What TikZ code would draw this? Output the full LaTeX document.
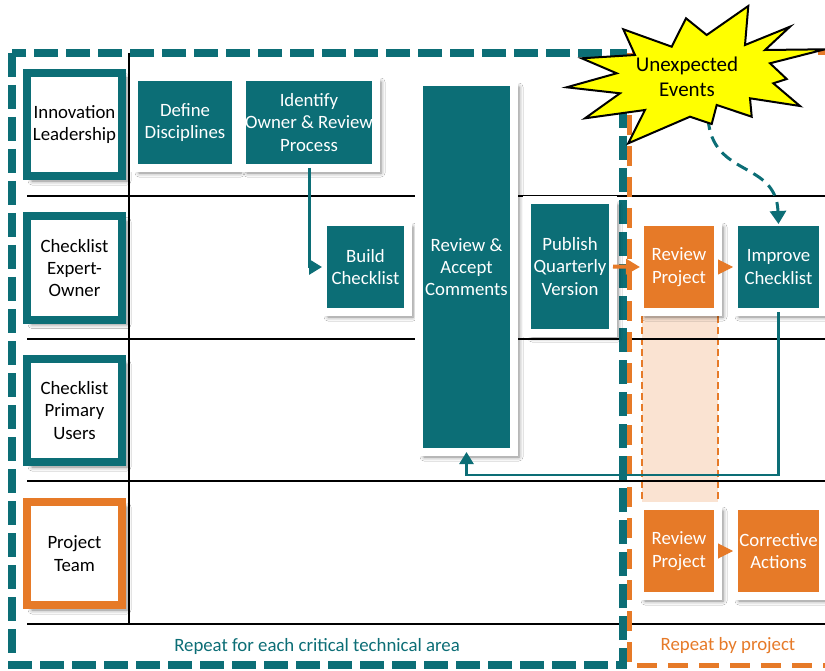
\documentclass[tikz,border=0pt]{standalone}
\usepackage{fontspec}
\setmainfont{Carlito}
\usetikzlibrary{arrows.meta,shadows.blur}
\definecolor{tealc}{RGB}{12,110,118}
\definecolor{orangec}{RGB}{230,122,40}
\definecolor{peach}{RGB}{250,227,210}
\definecolor{staryellow}{RGB}{255,255,0}
\begin{document}
\begin{tikzpicture}[x=1pt,y=-1pt,
  every node/.style={font=\fontsize{18.8}{22.3}\selectfont},
  shad/.style={blur shadow={shadow xshift=5pt,shadow yshift=-5pt,shadow blur radius=4pt,shadow opacity=50}},
  lanebox/.style={draw=#1, line width=8pt, fill=white, minimum width=95pt, minimum height=103pt,
    inner sep=0pt, outer sep=0pt, align=center, text=black, shad},
  proc/.style={fill=#1, draw=white, line width=8pt, inner sep=0pt, outer sep=0pt,
    align=center, text=white, shad},
  laneline/.style={black, line width=1.1pt},
  tealarrow/.style={tealc, line width=3pt, -{Triangle[length=13pt,width=15pt]}},
  orangearrow/.style={orangec, line width=4pt, -{Triangle[length=14pt,width=15pt]}},
]
\clip (0,0) rectangle (825,671);
\fill[white] (0,0) rectangle (825,671);

% highlighted project column
\fill[peach] (642,316) rectangle (718,502);
\draw[orangec, line width=2pt, dash pattern=on 7pt off 4pt] (642,316) -- (642,502) (718,316) -- (718,502);

% lane lines
\draw[laneline] (129,53) -- (129,624);
\foreach \yy in {196,339,481,624} \draw[laneline] (27,\yy) -- (825,\yy);

% repeat boundaries
\draw[orangec, line width=5pt, dash pattern=on 20pt off 11pt] (629,53) rectangle (850,665);
\draw[tealc, line width=8pt, dash pattern=on 24pt off 8pt] (12,53) rectangle (623,665);

% lane headers
\node[lanebox=tealc] (lil) at (74.5,124.5) {Innovation\\Leadership};
\node[lanebox=tealc] (lceo) at (74.5,268) {Checklist\\Expert-\\Owner};
\node[lanebox=tealc] (lcpu) at (74.5,410.5) {Checklist\\Primary\\Users};
\node[lanebox=orangec] (lpt) at (74.5,553.5) {Project\\Team};

% process boxes
\node[proc=tealc, minimum width=102pt, minimum height=91pt] (def) at (185,122.5) {Define\\Disciplines};
\node[proc=tealc, minimum width=134pt, minimum height=91pt] (idn) at (309,122.5) {Identify\\Owner \& Review\\Process};
\node[proc=tealc, minimum width=85pt, minimum height=90pt] (bld) at (365.5,267) {Build\\Checklist};
\node[proc=tealc, minimum width=95pt, minimum height=370pt] (rac) at (466.5,267) {Review \&\\Accept\\Comments};
\node[proc=tealc, minimum width=86pt, minimum height=133pt] (pub) at (570,266.5) {Publish\\Quarterly\\Version};
\node[proc=orangec, minimum width=78pt, minimum height=90pt] (rp1) at (679,267) {Review\\Project};
\node[proc=tealc, minimum width=89pt, minimum height=90pt] (imp) at (778.5,267) {Improve\\Checklist};
\node[proc=orangec, minimum width=78pt, minimum height=90pt] (rp2) at (679,551) {Review\\Project};
\node[proc=orangec, minimum width=89pt, minimum height=90pt] (cor) at (778.5,551) {Corrective\\Actions};

% connectors
\draw[tealarrow] (idn.south) |- ([xshift=-1pt]bld.west);
\coordinate (c1) at (778.5,475);
\coordinate (c2) at (466.5,475);
\draw[tealc, line width=2.5pt, -{Triangle[length=12pt,width=14pt]}] (imp.south) -- (c1) -- (c2) -- (rac.south);
\draw[orangearrow] (pub.east) -- (rp1.west);
\draw[orangec, line width=1pt, -{Triangle[length=15pt,width=15pt]}] (rp1.east) -- ([xshift=-1pt]imp.west);
\draw[orangec, line width=1pt, -{Triangle[length=15pt,width=15pt]}] (rp2.east) -- ([xshift=-1pt]cor.west);

% unexpected events
\coordinate (starfoot) at (708,118);
\draw[tealc, line width=3pt, dash pattern=on 12pt off 7pt, -{Triangle[length=13pt,width=16pt]}]
  (starfoot) .. controls (712,178) and (776,160) .. ([yshift=-2pt]imp.north);
\draw[black, line width=2pt, fill=staryellow, line join=miter]
  (623.3,29.3) -- (671.7,46.7) -- (686,18.3) -- (706.7,35) -- (748.3,6) -- (745,45)
  -- (790,26.7) -- (765,50) -- (825,49.3) -- (770,63.3) -- (786.7,79) -- (773.3,83.3)
  -- (800,106) -- (750,98.3) -- (751.7,116.7) -- (716.7,105) -- (711.7,124) -- (690,116.7)
  -- (628.3,143.3) -- (645,110) -- (585,118.3) -- (620,93.3) -- (566.7,87.3) -- (616.7,73.3)
  -- (581.7,58.3) -- (635,55) -- cycle;
\node[align=center, text=black, font=\fontsize{21}{25}\selectfont] (ev) at (687,77) {Unexpected\\Events};

% bottom labels
\node[text=tealc] (rep1) at (317,646) {Repeat for each critical technical area};
\node[text=orangec] (rep2) at (728,646) {Repeat by project};
\end{tikzpicture}
\end{document}
